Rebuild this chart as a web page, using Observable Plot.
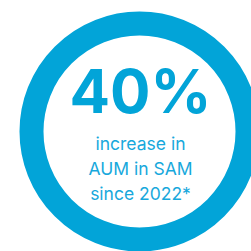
<!DOCTYPE html>
<html><head><meta charset="utf-8">
<script src="https://cdn.jsdelivr.net/npm/d3@7"></script>
<script src="https://cdn.jsdelivr.net/npm/@observablehq/plot@0.6"></script>
<style>html,body{margin:0;padding:0;background:#fff;overflow:hidden}</style>
</head><body><div id="chart"></div>
<script>
const headline = ["40%"];
const captionLines = ["increase in", "AUM in SAM", "since 2022*"];
const ringColor = "#02a4d8";

const plot = Plot.plot({
  width: 251, height: 251,
  margin: 0,
  x: {domain: [-139, 112], axis: null},
  y: {domain: [-131, 120], range: [0, 251], axis: null},
  style: {background: "#fff", fontFamily: "Inter, sans-serif"},
  marks: [
    Plot.dot([0], {x: 0, y: 0, r: 108, stroke: ringColor, strokeWidth: 24, fill: "none"}),
    Plot.text(headline, {x: 1, y: -19, text: d => d, fontSize: 60, fontWeight: 700, fill: ringColor, textAnchor: "middle", lineAnchor: "bottom"}),
    Plot.text(captionLines, {x: 1, y: (d, i) => 18 + i * 25, text: d => d, fontSize: 17.5, fontWeight: 400, fill: "#17a8dc", lineAnchor: "bottom"})
  ]
});
document.getElementById("chart").appendChild(plot);
</script></body></html>
